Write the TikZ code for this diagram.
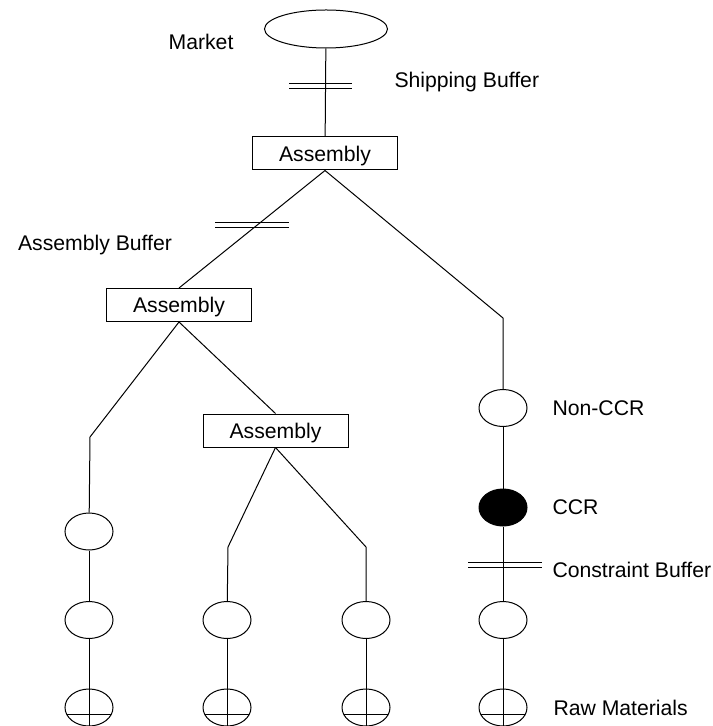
\documentclass[tikz,border=0pt]{standalone}
\usepackage{fontspec}
\setmainfont{Liberation Sans}
\usetikzlibrary{shapes.geometric}

\begin{document}
\begin{tikzpicture}[x=0.5pt, y=-0.5pt, line width=0.5pt,
		every node/.style={font=\fontsize{10.6}{12.7}\selectfont},
		station/.style={ellipse, draw, inner sep=0pt, minimum width=24pt, minimum height=18.5pt},
		ccrstation/.style={station, fill=black},
		rawstation/.style={station, path picture={\draw ([yshift=-3.5pt]path picture bounding box.west) -- ([yshift=-3.5pt]path picture bounding box.east);}},
		assembly/.style={rectangle, draw, inner sep=0pt, text depth=0pt, minimum width=72.5pt, minimum height=16.5pt},
		buffer/.style={double, double distance=1.8pt},
		tag/.style={anchor=west, inner sep=0pt}]
		
		\useasboundingbox (0,0) rectangle (712,726);
		
		% Market
		\node[ellipse, draw, inner sep=0pt, minimum width=61.5pt, minimum height=19pt] (market) at (326,29) {};
		\node (marketlbl) at (201,42) {Market};
		
		% Assembly boxes
		\node[assembly] (asm1) at (325,153.5) {Assembly};
		\node[assembly] (asm2) at (179,305) {Assembly};
		\node[assembly] (asm3) at (275.5,430.5) {Assembly};
		
		% Left column
		\node[station] (a1) at (89,531.5) {};
		\node[station] (a2) at (89,620) {};
		\node[rawstation] (raw1) at (89,707.5) {};
		
		% Middle columns
		\node[station] (b1) at (227,620) {};
		\node[rawstation] (raw2) at (227,707.5) {};
		\node[station] (c1) at (366,620) {};
		\node[rawstation] (raw3) at (366,707.5) {};
		
		% Right column with the constraint
		\node[station] (nonccr) at (503,408) {};
		\node[ccrstation] (ccr) at (503,507.5) {};
		\node[station] (d1) at (503,620) {};
		\node[rawstation] (raw4) at (503,707.5) {};
		
		% Bends
		\coordinate (bendR) at (503,318);
		\coordinate (bendA) at (90,437);
		\coordinate (bendB) at (228,547);
		\coordinate (bendC) at (366,547);
		
		% Buffers
		\draw[buffer] (289,86) -- (352,86);
		\draw[buffer] (215,225) -- (289,225);
		\draw[buffer] (468,565) -- (542,565);
		
		% Labels
		\node[tag] (shiplbl) at (394,82) {Shipping Buffer};
		\node (asmbuflbl) at (95,245) {Assembly Buffer};
		\node[tag] (nonccrlbl) at (552,408) {Non-CCR};
		\node[tag] (ccrlbl) at (552,507.5) {CCR};
		\node[tag] (conlbl) at (552,570) {Constraint Buffer};
		\node[tag] (rawlbl) at (553,708) {Raw Materials};
		
		% Connectors
		\draw (market) -- (asm1);
		\draw (asm1.south) -- (asm2.north);
		\draw (asm1.south) -- (bendR) -- (nonccr);
		\draw (asm2.south) -- (bendA) -- (a1);
		\draw (asm2.south) -- (asm3.north);
		\draw (asm3.south) -- (bendB) -- (b1);
		\draw (asm3.south) -- (bendC) -- (c1);
		\draw (a1) -- (a2) -- (raw1.south);
		\draw (b1) -- (raw2.south);
		\draw (c1) -- (raw3.south);
		\draw (nonccr) -- (ccr) -- (d1) -- (raw4.south);
		
	\end{tikzpicture}
\end{document}
